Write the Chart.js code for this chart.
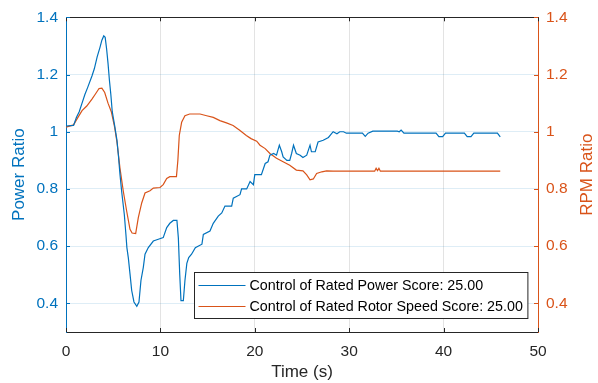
<!DOCTYPE html>
<html><head><meta charset="utf-8">
<script src="https://cdn.jsdelivr.net/npm/chart.js@4.4.0/dist/chart.umd.min.js"></script>
<style>html,body{margin:0;padding:0;background:#fff;}#wrap{width:598px;height:383px;position:relative;}</style>
</head><body><div id="wrap"><canvas id="c" width="598" height="383"></canvas></div>
<script>
const powerTime = [0,0.8,1.1,1.4,1.7,2.0,2.3,2.75,3.0,3.3,3.6,3.8,4.0,4.15,4.3,4.45,4.6,4.75,4.9,5.15,5.4,5.55,5.72,5.9,6.18,6.35,6.45,6.6,6.78,6.96,7.2,7.5,7.73,7.94,8.19,8.37,8.72,9.25,9.78,10.3,10.67,11.0,11.37,11.75,11.9,12.05,12.18,12.43,12.6,12.8,13.0,13.3,13.7,14.4,14.55,15.25,15.6,16.13,16.5,16.84,17.55,17.72,18.43,18.6,19.14,19.5,19.85,20.0,20.7,21.1,21.4,21.6,22.0,22.3,22.6,22.85,23.0,23.4,23.7,23.9,24.1,24.4,24.8,25.1,25.5,25.85,26.0,26.4,26.7,27.25,27.8,28.3,28.7,29.0,29.4,29.7,31.4,31.7,32.0,32.5,35.1,35.3,35.5,35.8,39.2,39.5,39.9,40.2,42.2,42.5,42.9,43.2,45.7,46.0];
const powerValues = [1.02,1.022,1.05,1.07,1.10,1.13,1.155,1.195,1.22,1.262,1.295,1.32,1.335,1.33,1.29,1.24,1.18,1.13,1.07,1.022,0.97,0.918,0.85,0.79,0.71,0.64,0.595,0.56,0.503,0.445,0.405,0.39,0.405,0.48,0.526,0.572,0.595,0.618,0.624,0.63,0.665,0.68,0.69,0.69,0.63,0.5,0.41,0.41,0.48,0.54,0.56,0.572,0.595,0.607,0.641,0.653,0.68,0.705,0.716,0.74,0.74,0.768,0.78,0.80,0.80,0.826,0.815,0.85,0.85,0.889,0.895,0.918,0.924,0.918,0.953,0.93,0.912,0.90,0.90,0.924,0.953,0.924,0.918,0.91,0.918,0.953,0.93,0.93,0.964,0.97,0.98,1.0,0.993,1.0,1.0,0.995,0.995,0.984,0.995,1.002,1.002,1.0,1.006,0.995,0.995,0.983,0.983,0.995,0.995,0.983,0.983,0.995,0.995,0.982];
const rpmTime = [0,0.8,1.17,1.7,2.2,2.75,3.1,3.5,3.8,4.1,4.45,4.8,5.15,5.4,5.72,6.07,6.43,6.78,7.0,7.38,7.66,8.02,8.37,8.9,9.25,9.96,10.3,10.67,11.0,11.7,11.85,12.0,12.25,12.6,13.1,14.2,14.9,15.6,16.3,17.0,17.7,18.4,19.1,19.6,20.2,20.55,21.1,21.6,22.3,23.0,23.7,24.4,25.1,25.5,25.85,26.2,26.55,27.1,27.6,28.3,32.7,32.85,33.0,33.15,33.3,46.0];
const rpmValues = [1.016,1.024,1.045,1.074,1.09,1.114,1.131,1.151,1.152,1.137,1.10,1.07,1.016,0.964,0.872,0.792,0.722,0.659,0.646,0.644,0.70,0.751,0.786,0.794,0.803,0.805,0.815,0.837,0.843,0.843,0.9,0.987,1.033,1.056,1.062,1.062,1.056,1.05,1.039,1.031,1.022,1.005,0.987,0.976,0.967,0.953,0.941,0.924,0.907,0.895,0.883,0.866,0.863,0.849,0.832,0.835,0.854,0.86,0.863,0.862,0.862,0.872,0.864,0.872,0.862,0.862];
const xTicks = [0,10,20,30,40,50];
const xTickLabels = ['0','10','20','30','40','50'];
const yTicks = [0.4,0.6,0.8,1,1.2,1.4];
const yTickLabels = ['0.4','0.6','0.8','1','1.2','1.4'];
const seriesNames = ['Control of Rated Power Score: 25.00','Control of Rated Rotor Speed Score: 25.00'];
const axisTitles = {x:'Time (s)', y:'Power Ratio', y1:'RPM Ratio'};

const BLUE='#0072BD', ORANGE='#D95319', DARK='#262626';
const FAMILY = '"Liberation Sans", Arial, Helvetica, sans-serif';
const TICK_FS = 15.5, TITLE_FS = 17, LEGEND_FS = 14.3;
Chart.defaults.font.family = FAMILY;

function toPts(ts, vs){ return ts.map((t,i)=>({x:t,y:vs[i]})); }
function setTicks(list){ return s => { s.ticks = list.map(v=>({value:v})); }; }
function lab(list, labels){ return v => { const i = list.findIndex(u=>Math.abs(u-v)<1e-9); return i>=0 ? labels[i] : ''; }; }

const extras = {
  id:'extras',
  afterDraw(chart){
    const c = chart.ctx, a = chart.chartArea;
    const L=a.left, R=a.right, T=a.top, B=a.bottom;
    c.save();
    c.strokeStyle = DARK; c.lineWidth = 1;
    c.beginPath(); c.moveTo(L, Math.round(T)+0.5); c.lineTo(R, Math.round(T)+0.5); c.stroke();
    const xs = chart.scales.x, ys = chart.scales.y, y1 = chart.scales.y1;
    const tl = 4;
    c.beginPath();
    xTicks.forEach(v=>{ const px = Math.round(xs.getPixelForValue(v))+0.5;
      c.moveTo(px, B); c.lineTo(px, B-tl); c.moveTo(px, T); c.lineTo(px, T+tl); });
    c.stroke();
    c.strokeStyle = BLUE; c.beginPath();
    yTicks.forEach(v=>{ const py = Math.round(ys.getPixelForValue(v))+0.5; c.moveTo(L, py); c.lineTo(L+tl, py); });
    c.stroke();
    c.strokeStyle = ORANGE; c.beginPath();
    yTicks.forEach(v=>{ const py = Math.round(y1.getPixelForValue(v))+0.5; c.moveTo(R, py); c.lineTo(R-tl, py); });
    c.stroke();
    c.fillStyle = ORANGE; c.font = TITLE_FS + 'px ' + FAMILY; c.textAlign='center'; c.textBaseline='middle';
    c.translate(587, (T+B)/2); c.rotate(-Math.PI/2); c.fillText(axisTitles.y1, 0, 0);
    c.restore();
    // legend
    c.save();
    c.font = LEGEND_FS + 'px ' + FAMILY;
    const tw = Math.max(...chart.data.datasets.map(d=>c.measureText(d.label).width));
    const lineLen = 47, gap = 4, padL = 4, padR = 5;
    const bw = padL + lineLen + gap + tw + padR, bh = 46;
    const bx = Math.round(R - 11 - bw) + 0.5, by = Math.round(B - 14 - bh) + 0.5;
    c.fillStyle = '#fff'; c.fillRect(bx, by, bw, bh);
    c.strokeStyle = DARK; c.lineWidth = 1; c.strokeRect(bx, by, bw, bh);
    chart.data.datasets.forEach((d,i)=>{
      const cy = by + 13 + i*21;
      c.strokeStyle = d.borderColor; c.lineWidth = 1.2;
      c.beginPath(); c.moveTo(bx+padL, cy); c.lineTo(bx+padL+lineLen, cy); c.stroke();
      c.fillStyle = '#000'; c.textAlign='left'; c.textBaseline='middle';
      c.fillText(d.label, bx+padL+lineLen+gap, cy+0.5);
    });
    c.restore();
  }
};

new Chart(document.getElementById('c').getContext('2d'), {
  type:'line',
  data:{datasets:[
    {label:seriesNames[0], data:toPts(powerTime, powerValues), borderColor:BLUE, backgroundColor:BLUE, borderWidth:1.2, pointRadius:0, tension:0, yAxisID:'y', fill:false},
    {label:seriesNames[1], data:toPts(rpmTime, rpmValues), borderColor:ORANGE, backgroundColor:ORANGE, borderWidth:1.2, pointRadius:0, tension:0, yAxisID:'y1', fill:false}
  ]},
  options:{
    responsive:false, animation:false, devicePixelRatio:1,
    layout:{padding:{top:14,left:0,right:0,bottom:0}},
    plugins:{legend:{display:false}, tooltip:{enabled:false}},
    scales:{
      x:{type:'linear', min:0, max:50, afterBuildTicks:setTicks(xTicks), afterFit:s=>{s.height=51;},
        ticks:{callback:lab(xTicks,xTickLabels), color:DARK, font:{size:TICK_FS}, padding:10, maxRotation:0, autoSkip:false},
        grid:{color:'rgba(38,38,38,0.13)', drawTicks:false}, border:{color:DARK, width:1},
        title:{display:true, text:axisTitles.x, color:DARK, font:{size:TITLE_FS}, padding:{top:0,bottom:0}}},
      y:{type:'linear', position:'left', min:0.3, max:1.4, afterBuildTicks:setTicks(yTicks), afterFit:s=>{s.width=66;},
        ticks:{callback:lab(yTicks,yTickLabels), color:BLUE, font:{size:TICK_FS}, padding:8, autoSkip:false},
        grid:{color:'rgba(0,114,189,0.13)', drawTicks:false}, border:{color:BLUE, width:1},
        title:{display:true, text:axisTitles.y, color:BLUE, font:{size:TITLE_FS}, padding:{top:9,bottom:0}}},
      y1:{type:'linear', position:'right', min:0.3, max:1.4, afterBuildTicks:setTicks(yTicks), afterFit:s=>{s.width=60;},
        ticks:{callback:lab(yTicks,yTickLabels), color:ORANGE, font:{size:TICK_FS}, padding:8, autoSkip:false},
        grid:{drawOnChartArea:false, drawTicks:false}, border:{color:ORANGE, width:1}}
    }
  },
  plugins:[extras]
});
</script></body></html>
